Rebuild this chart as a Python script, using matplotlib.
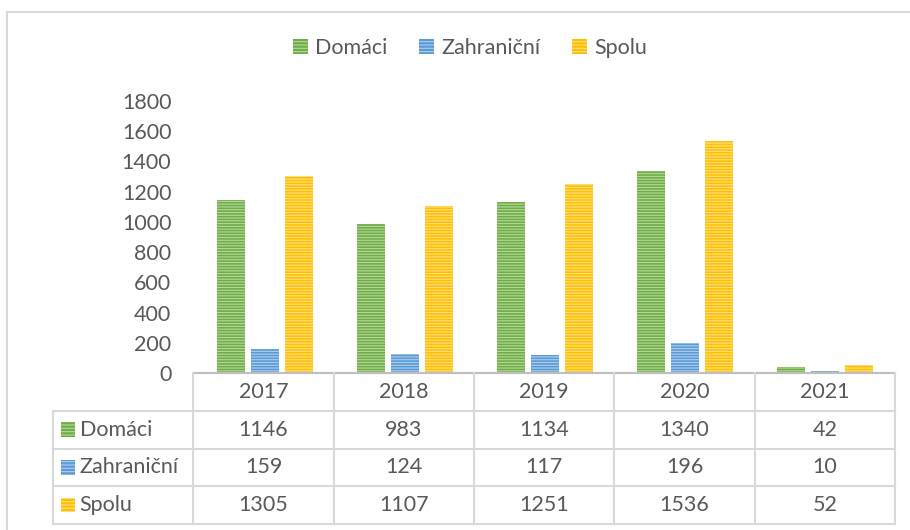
import matplotlib.pyplot as plt
import matplotlib.patches as mpatches
import numpy as np

plt.rcParams['font.family'] = ['Lato', 'DejaVu Sans']
plt.rcParams['hatch.linewidth'] = 0.8

# Data
years = ['2017', '2018', '2019', '2020', '2021']
series_names = ['Domáci', 'Zahraniční', 'Spolu']
domaci = [1146, 983, 1134, 1340, 42]
zahranicni = [159, 124, 117, 196, 10]
spolu = [1305, 1107, 1251, 1536, 52]
y_ticks = [0, 200, 400, 600, 800, 1000, 1200, 1400, 1600, 1800]

# Styles (base colour, lighter stripe colour)
BASE = ['#70ad47', '#5b9bd5', '#ffc000']
STRIPE = ['#b5d99c', '#afcfee', '#ffe08a']
TEXT = '#595959'
GRID = '#d9d9d9'
FS = 15.5

W, H = 910, 530
fig = plt.figure(figsize=(W / 100, H / 100), dpi=100)
fig.patch.set_facecolor('white')

# outer chart border (cut off at right/bottom like the reference)
fig.add_artist(mpatches.Rectangle((7 / W, -0.05), 1.0, 1 - 12 / H + 0.05,
                                  transform=fig.transFigure, fill=False,
                                  ec=GRID, lw=1.5))

# ---- bar area ----
ax = fig.add_axes([195 / W, (H - 373) / H, 700 / W, 272 / H])
x = np.arange(len(years))
width = 0.2
offsets = [-0.24, 0.0, 0.24]
all_vals = [domaci, zahranicni, spolu]
for vals, off, base, stripe, name in zip(all_vals, offsets, BASE, STRIPE, series_names):
    ax.bar(x + off, vals, width, facecolor=base, edgecolor=stripe,
           hatch='------', linewidth=0, label=name, zorder=2)

ax.set_xlim(-0.5, len(years) - 0.5)
ax.set_ylim(0, 1800)
ax.set_yticks(y_ticks)
ax.set_yticklabels([str(t) for t in y_ticks], fontsize=FS, color=TEXT)
ax.tick_params(axis='y', length=0, pad=17)
ax.set_xticks([])
for s in ['top', 'right', 'left']:
    ax.spines[s].set_visible(False)
ax.spines['bottom'].set_color('#bfbfbf')
ax.spines['bottom'].set_linewidth(1.5)

# legend
handles = [mpatches.Patch(facecolor=b, edgecolor=s, hatch='-----', linewidth=0, label=n)
           for b, s, n in zip(BASE, STRIPE, series_names)]
fig.legend(handles=handles, loc='center', bbox_to_anchor=(470 / W, 1 - 48 / H),
           ncol=3, frameon=False, fontsize=FS, labelcolor=TEXT,
           handlelength=0.7, handleheight=0.7, handletextpad=0.3,
           columnspacing=1.5)

# ---- data table ----
tax = fig.add_axes([53 / W, (H - 524) / H, 842 / W, 151 / H])
tax.set_xlim(-1.5, len(years) - 0.5)
tax.set_ylim(4, 0)
tax.axis('off')

n = len(years)
lw = 1.5
# horizontal lines
tax.plot([-0.5, n - 0.5], [0, 0], color='#bfbfbf', lw=lw, clip_on=False)
for r in range(1, 5):
    tax.plot([-1.5, n - 0.5], [r, r], color=GRID, lw=lw, clip_on=False)
# vertical lines
for c in range(n + 1):
    tax.plot([c - 0.5, c - 0.5], [0, 4], color=GRID, lw=lw, clip_on=False)
tax.plot([-1.5, -1.5], [1, 4], color=GRID, lw=lw, clip_on=False)

for i, yr in enumerate(years):
    tax.text(i, 0.5, yr, ha='center', va='center', fontsize=FS, color=TEXT)

for r, (name, vals, base, stripe) in enumerate(zip(series_names, all_vals, BASE, STRIPE)):
    yc = r + 1.5
    tax.add_patch(mpatches.Rectangle((-1.44, yc - 0.19), 0.1, 0.38,
                                     facecolor=base, edgecolor=stripe,
                                     hatch='-----', linewidth=0, clip_on=False))
    tax.text(-1.31, yc, name, ha='left', va='center', fontsize=FS, color=TEXT)
    for i, v in enumerate(vals):
        tax.text(i, yc, str(v), ha='center', va='center', fontsize=FS, color=TEXT)

fig.savefig('out.png', dpi=100, facecolor='white')
